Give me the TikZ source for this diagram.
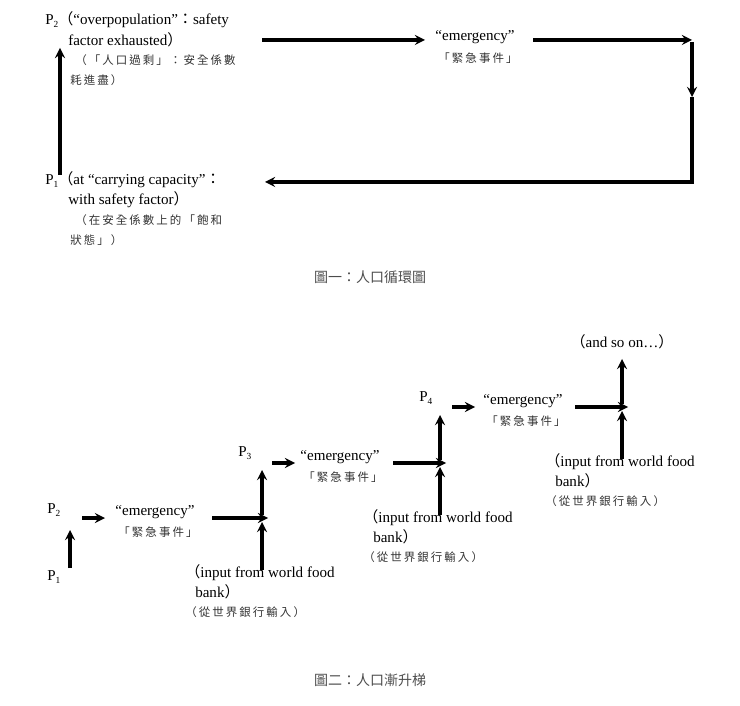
\documentclass[tikz,border=0pt]{standalone}
\usepackage{fontspec}
\setmainfont{Liberation Serif}
\newfontfamily\cjk[LetterSpace=18]{Noto Sans CJK TC}
\newfontfamily\cjkcap{Noto Sans CJK TC}
\usetikzlibrary{arrows}
\tikzstyle{every picture}+=[>=stealth]
\newcommand\zh[1]{{\cjkcap #1}}
\newcommand\Psub[1]{P\raisebox{-0.35ex}{\scriptsize #1}}
\begin{document}
\begin{tikzpicture}[x=0.75pt,y=-0.75pt,
		txt/.style={anchor=west, inner sep=0pt, font=\fontsize{11.3}{13}\selectfont},
		ztxt/.style={anchor=west, inner sep=0pt, font=\cjk\fontsize{8.6}{11}\selectfont, text=black!80},
		caption/.style={inner sep=0pt, font=\cjkcap\fontsize{10.5}{12}\selectfont, text=black!70},
		flow/.style={->, line width=2.3pt}
		]
	\useasboundingbox (0,0) rectangle (740,706);

	% figure one
	\node[txt] (p2a) at (45,20) {\Psub{2}\zh{（}“overpopulation”\zh{：}safety};
	\node[txt] (p2b) at (68,40) {factor exhausted\zh{）}};
	\node[ztxt] (p2c) at (75,60) {（「人口過剩」：安全係數};
	\node[ztxt] (p2d) at (70,80) {耗進盡）};
	\node[txt] (em0) at (475,37) [anchor=center] {“emergency”};
	\node[ztxt] (zm0) at (478,58) [anchor=center] {「緊急事件」};
	\node[txt] (p1a) at (45,180) {\Psub{1}\zh{（}at “carrying capacity”\zh{：}};
	\node[txt] (p1b) at (68,200) {with safety factor\zh{）}};
	\node[ztxt] (p1c) at (75,220) {（在安全係數上的「飽和};
	\node[ztxt] (p1d) at (70,240) {狀態」）};
	\coordinate (ur) at (692,40);
	\coordinate (rm) at (692,97);
	\coordinate (lr) at (692,182);
	\draw[flow] (60,175) -- (60,48);
	\draw[flow] (262,40) -- (425,40);
	\draw[flow] (533,40) -- (ur);
	\draw[flow] (692,42) -- (rm);
	\draw[flow] (rm) -- (lr) -- (265,182);
	\node[caption] (cap1) at (370,277) {圖一：人口循環圖};

	% figure two
	\node[txt] (q1) at (47,577) {\Psub{1}};
	\node[txt] (q2) at (47,510) {\Psub{2}};
	\node[txt] (q3) at (238,453) {\Psub{3}};
	\node[txt] (q4) at (419,398) {\Psub{4}};
	\draw[flow] (70,568) -- (70,530);
	\foreach \i/\x/\y/\xa/\xb/\xc in {1/155/518/82/212/262, 2/340/463/272/393/440, 3/523/407/452/575/622}{
		\node[txt, anchor=center] (em\i) at (\x,\y-6) {“emergency”};
		\node[ztxt, anchor=center] (zm\i) at (\x+3,\y+14) {「緊急事件」};
		\coordinate (jn\i) at (\xc+6,\y);
		\draw[flow] (\xa,\y) -- (\xa+23,\y);
		\draw[flow] (\xb,\y) -- (jn\i);
		\draw[flow] (\xc,\y-3) -- (\xc,\y-48);
		\draw[flow] (\xc,\y+52) -- (\xc,\y+4);
		\node[txt] (in\i) at (\xc-77,\y+55) {\zh{（}input from world food};
		\node[txt] (bk\i) at (\xc-67,\y+74) {bank\zh{）}};
		\node[ztxt] (zb\i) at (\xc-77,\y+94) {（從世界銀行輸入）};
	}
	\node[txt, anchor=center] (more) at (622,342) {\zh{（}and so on…\zh{）}};
	\node[caption] (cap2) at (370,680) {圖二：人口漸升梯};
\end{tikzpicture}
\end{document}
